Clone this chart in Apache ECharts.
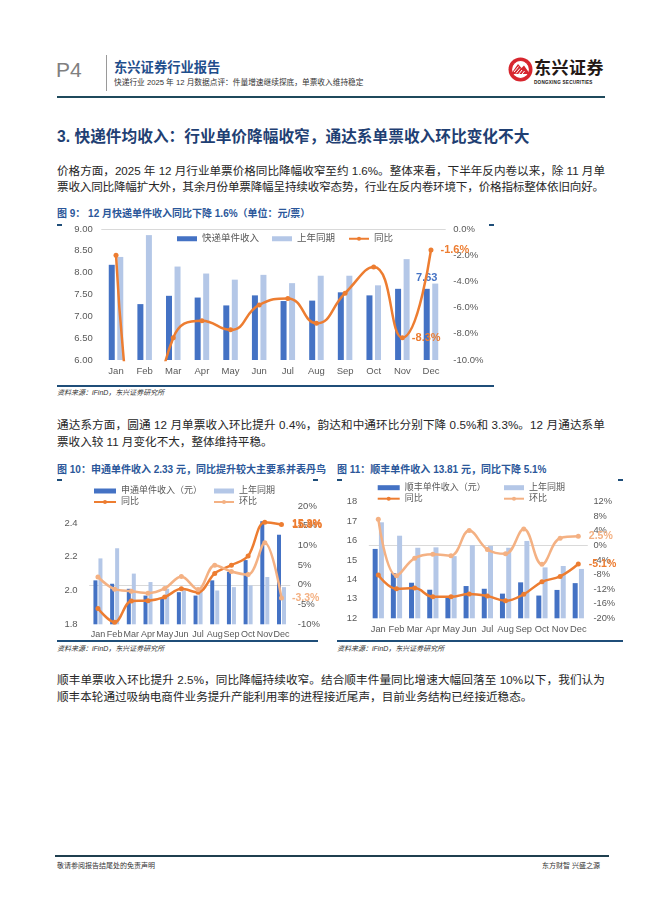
<!DOCTYPE html>
<html><head><meta charset="utf-8">
<script src="https://cdn.jsdelivr.net/npm/echarts@6/dist/echarts.min.js"></script>
<style>
html,body{margin:0;padding:0;background:#fff;}
body{width:662px;height:898px;position:relative;overflow:hidden;font-family:"Liberation Sans","Noto Sans CJK SC",sans-serif;color:#111;}
.a{position:absolute;white-space:nowrap;}
.para{font-size:11.6px;line-height:16px;color:#262626;}
.ftitle{font-size:10px;font-weight:bold;color:#2B579A;line-height:14px;}
.src{font-size:7px;font-style:italic;color:#333;line-height:10px;}
.rule{position:absolute;background:#1F4E79;}
.chart{position:absolute;}
</style></head><body>

<!-- header -->
<div class="a" style="left:56px;top:57px;font-size:21px;line-height:26px;color:#808080;font-family:'Liberation Sans Narrow','Liberation Sans',sans-serif;">P4</div>
<div class="rule" style="left:106px;top:55px;width:1px;height:36px;background:#9a9a9a;"></div>
<div class="a" style="left:114px;top:59px;font-size:13.3px;line-height:17px;font-weight:bold;color:#1F4E8C;">东兴证券行业报告</div>
<div class="a" style="left:114px;top:78px;font-size:7.7px;line-height:10px;color:#333;">快递行业 2025 年 12 月数据点评：件量增速继续探底，单票收入维持稳定</div>
<svg class="a" style="left:508px;top:57px" width="25" height="25" viewBox="0 0 25 25">
  <circle cx="12.5" cy="12.5" r="12" fill="#D7262E"/>
  <circle cx="12.5" cy="12.5" r="9" fill="#fff"/>
  <path d="M3 17 L10 7 L13.5 11 L16 8.5 L22 17 Z" fill="#D7262E"/>
  <path d="M6 15 L10.5 9.5 M8 16.5 L12 11.5 M10 18 L14 13 M13 18.5 L16.5 14" stroke="#fff" stroke-width="1"/>
  <circle cx="12.5" cy="12.5" r="9" fill="none" stroke="#D7262E" stroke-width="1.2"/>
</svg>
<div class="a" style="left:534px;top:59px;font-size:17px;line-height:20px;font-weight:bold;color:#231815;letter-spacing:0.5px;">东兴证券</div>
<div class="a" style="left:534px;top:80px;font-size:4.6px;line-height:6px;font-weight:bold;color:#231815;letter-spacing:0.25px;">DONGXING SECURITIES</div>
<div class="rule" style="left:57px;top:96px;width:548px;height:1.5px;background:#1F4A5C;"></div>

<!-- section heading -->
<div class="a" style="left:57px;top:127px;font-size:15.7px;line-height:20px;font-weight:bold;color:#1F3F73;">3. 快递件均收入：行业单价降幅收窄，通达系单票收入环比变化不大</div>

<div class="a para fit" data-w="548" style="left:57px;top:163px;">价格方面，2025 年 12 月行业单票价格同比降幅收窄至约 1.6%。整体来看，下半年反内卷以来，除 11 月单</div>
<div class="a para fit" data-w="547" style="left:57px;top:179px;">票收入同比降幅扩大外，其余月份单票降幅呈持续收窄态势，行业在反内卷环境下，价格指标整体依旧向好。</div>

<!-- fig 9 -->
<div class="a ftitle" style="left:57px;top:207px;">图 9：&nbsp;12 月快递单件收入同比下降 1.6%（单位：元/票）</div>
<div class="rule" style="left:57px;top:224px;width:5px;height:1.5px;"></div>
<div class="rule" style="left:489px;top:224px;width:5px;height:1.5px;"></div>
<div id="c1" class="chart" style="left:57px;top:222px;width:438px;height:163px;"></div>
<div class="rule" style="left:57px;top:385px;width:437px;height:1.5px;"></div>
<div class="a src" style="left:57px;top:388px;">资料来源：iFinD，东兴证券研究所</div>

<div class="a para fit" data-w="548" style="left:57px;top:417px;">通达系方面，圆通 12 月单票收入环比提升 0.4%，韵达和中通环比分别下降 0.5%和 3.3%。12 月通达系单</div>
<div class="a para" style="left:57px;top:434px;">票收入较 11 月变化不大，整体维持平稳。</div>

<!-- fig 10 -->
<div class="a ftitle" style="left:57px;top:463px;">图 10：申通单件收入 2.33 元，同比提升较大主要系并表丹鸟</div>
<div class="rule" style="left:57px;top:479px;width:5px;height:1.5px;"></div>
<div class="rule" style="left:313px;top:479px;width:5px;height:1.5px;"></div>
<div id="c2" class="chart" style="left:57px;top:480px;width:266px;height:160px;"></div>
<div class="rule" style="left:57px;top:640px;width:261px;height:1.5px;"></div>
<div class="a src" style="left:57px;top:644px;">资料来源：iFinD，东兴证券研究所</div>

<!-- fig 11 -->
<div class="a ftitle" style="left:337px;top:463px;">图 11：顺丰单件收入 13.81 元，同比下降 5.1%</div>
<div class="rule" style="left:337px;top:479px;width:5px;height:1.5px;"></div>
<div class="rule" style="left:618px;top:479px;width:5px;height:1.5px;"></div>
<div id="c3" class="chart" style="left:337px;top:478px;width:286px;height:162px;"></div>
<div class="rule" style="left:337px;top:640px;width:286px;height:1.5px;"></div>
<div class="a src" style="left:337px;top:644px;">资料来源：iFinD，东兴证券研究所</div>

<div class="a para fit" data-w="548" style="left:57px;top:672px;">顺丰单票收入环比提升 2.5%，同比降幅持续收窄。结合顺丰件量同比增速大幅回落至 10%以下，我们认为</div>
<div class="a para" style="left:57px;top:689px;">顺丰本轮通过吸纳电商件业务提升产能利用率的进程接近尾声，目前业务结构已经接近稳态。</div>

<!-- footer -->
<div class="rule" style="left:55px;top:855px;width:554px;height:1.5px;background:#1F3F4F;"></div>
<div class="a" style="left:57px;top:861px;font-size:7px;line-height:10px;color:#333;">敬请参阅报告结尾处的免责声明</div>
<div class="a" style="left:542px;top:861px;font-size:7px;line-height:10px;color:#333;">东方财智&nbsp;兴盛之源</div>

<script>
// ---------- data ----------
const months = ['Jan','Feb','Mar','Apr','May','Jun','Jul','Aug','Sep','Oct','Nov','Dec'];

// Fig 9
const expressIncome   = [8.18,7.28,7.47,7.43,7.25,7.48,7.35,7.36,7.55,7.48,7.63,7.63];
const expressLastYear = [8.36,8.86,8.14,7.98,7.84,7.95,7.76,7.93,7.93,7.71,8.31,7.75];
const expressYoy      = [-2.0,-17.8,-8.3,-7.0,-7.7,-5.8,-5.3,-7.2,-4.9,-2.9,-8.3,-1.6];
const fig9LeftTicks   = {min:6, max:9, interval:0.5};
const fig9RightTicks  = {min:-10, max:0, interval:2};

// Fig 10
const stoIncome   = [2.06,2.04,2.01,1.97,1.95,1.99,1.97,2.06,2.11,2.18,2.41,2.33];
const stoLastYear = [2.19,2.25,2.10,2.05,2.01,2.00,2.00,2.00,2.02,2.03,2.08,2.02];
const stoYoy      = [-6.0,-9.5,-4.1,-4.0,-3.1,-1.0,-1.9,2.9,5.0,7.3,15.9,15.3];
const stoMom      = [2.0,-1.1,-1.6,-2.1,-0.9,2.1,-1.2,5.0,3.4,2.6,10.7,-3.3];
const fig10LeftTicks  = {min:1.8, max:2.5, interval:0.2};
const fig10RightTicks = {min:-10, max:20, interval:5};

// Fig 11
const sfIncome   = [15.57,14.33,13.83,13.47,13.11,13.66,13.52,13.27,13.85,13.17,13.46,13.81];
const sfLastYear = [16.94,16.25,15.63,15.65,15.20,15.76,15.73,15.63,15.98,14.62,14.69,14.54];
const sfYoy      = [-8.1,-11.9,-11.7,-14.1,-14.1,-13.3,-13.9,-15.2,-13.4,-10.0,-8.5,-5.1];
const sfMom      = [7.2,-8.3,-3.5,-2.4,-2.8,4.1,-1.1,-2.3,4.5,-5.2,2.0,2.5];
const fig11LeftTicks  = {min:12, max:18, interval:1};
const fig11RightTicks = {min:-20, max:12, interval:4};

// ---------- styles ----------
const FF = '"Liberation Sans","Noto Sans CJK SC",sans-serif';
const DARK = '#4472C4', LIGHT = '#B4C7E7', ORANGE = '#ED7D31', PEACH = '#F4B183', AX = '#595959';

function fitLines(){
  document.querySelectorAll('.fit').forEach(el=>{
    el.style.letterSpacing='0px';
    const w = el.getBoundingClientRect().width;
    const n = el.textContent.length;
    el.style.letterSpacing = ((+el.dataset.w - w)/n)+'px';
  });
}
fitLines();

function labeled(arr, labels){
  return arr.map((v,i)=> labels[i] ? {value:v, label:Object.assign({show:true}, labels[i])} : v);
}
function pct1(p){ return p.value.toFixed(1)+'%'; }

function xAxisCfg(fs, margin){
  return {type:'category', data:months,
    axisLine:{lineStyle:{color:'#D9D9D9', width:1}}, axisTick:{show:false},
    axisLabel:{color:AX, fontSize:fs, fontFamily:FF, margin:margin, interval:0, hideOverlap:false}};
}
function yAxisCfg(t, fs, margin, fmt){
  return Object.assign({type:'value', splitLine:{show:false}, axisLine:{show:false}, axisTick:{show:false},
    axisLabel:{color:AX, fontSize:fs, fontFamily:FF, margin:margin, formatter:fmt, showMaxLabel:true}}, t);
}
function lineSeries(name, data, color, axis, smooth){
  return {name, type:'line', yAxisIndex:axis, data, smooth, clip:true,
    symbol:'circle', symbolSize:5, showAllSymbol:true,
    lineStyle:{color, width:2.5}, itemStyle:{color}, z:5};
}
function barSeries(name, data, color, w, gap){
  return {name, type:'bar', data, barWidth:w, barGap:gap, itemStyle:{color}};
}

// ---------- Fig 9 ----------
const c1 = echarts.init(document.getElementById('c1'));
const lab1Line = {position:'right', distance:7, formatter:pct1, color:ORANGE, fontSize:11, fontWeight:'bold', fontFamily:FF};
c1.setOption({
  animation:false, textStyle:{fontFamily:FF},
  legend:{left:120, top:12, padding:0, itemWidth:20, itemHeight:5, itemGap:13,
    textStyle:{color:AX, fontSize:9.5, fontFamily:FF},
    data:[{name:'快递单件收入',icon:'rect'},{name:'上年同期',icon:'rect'},'同比']},
  grid:{left:44.7, top:7, width:343.6, height:131},
  xAxis:xAxisCfg(9.5, 7),
  yAxis:[yAxisCfg(fig9LeftTicks, 9.5, 9, v=>v.toFixed(2)),
         yAxisCfg(fig9RightTicks, 9.5, 8, v=>v.toFixed(1)+'%')],
  series:[
    barSeries('快递单件收入', labeled(expressIncome, {11:{position:'top', distance:5, color:DARK, fontSize:11, fontWeight:'bold', formatter:p=>p.value.toFixed(2)}}), DARK, 6, '42%'),
    barSeries('上年同期', expressLastYear, LIGHT, 6, '42%'),
    lineSeries('同比', labeled(expressYoy, {10:lab1Line, 11:lab1Line}), ORANGE, 1, 0.5)
  ]
});

// ---------- Fig 10 ----------
const c2 = echarts.init(document.getElementById('c2'));
const lab2 = {position:'right', distance:8, formatter:pct1, color:ORANGE, fontSize:10.5, fontWeight:'bold', fontFamily:FF};
const lab2m = Object.assign({}, lab2, {color:PEACH});
c2.setOption({
  animation:false, textStyle:{fontFamily:FF},
  legend:[
    {left:36, top:5.5, orient:'vertical', padding:0, itemWidth:22, itemHeight:5, itemGap:0,
     textStyle:{color:AX, fontSize:9, lineHeight:11, fontFamily:FF},
     data:[{name:'申通单件收入（元）',icon:'rect'},'同比']},
    {left:156, top:5.5, orient:'vertical', padding:0, itemWidth:20, itemHeight:5, itemGap:0,
     textStyle:{color:AX, fontSize:9, lineHeight:11, fontFamily:FF},
     data:[{name:'上年同期',icon:'rect'},'环比']}
  ],
  grid:{left:32.6, top:26, width:201.8, height:118.3},
  xAxis:xAxisCfg(9, 6),
  yAxis:[yAxisCfg(fig10LeftTicks, 9.5, 12, v=>v.toFixed(1)),
         yAxisCfg(fig10RightTicks, 9.5, 8, v=>v+'%')],
  series:[
    barSeries('申通单件收入（元）', stoIncome, DARK, 4, '25%'),
    barSeries('上年同期', stoLastYear, LIGHT, 4, '25%'),
    lineSeries('同比', labeled(stoYoy, {10:Object.assign({}, lab2, {offset:[17,2.5]}), 11:lab2}), ORANGE, 1, 0.35),
    lineSeries('环比', labeled(stoMom, {11:lab2m}), PEACH, 1, 0.35)
  ]
});
c2.setOption({yAxis:[{axisLabel:{showMaxLabel:false}},{}]});

// ---------- Fig 11 ----------
const c3 = echarts.init(document.getElementById('c3'));
const lab3 = {position:'right', distance:8, formatter:pct1, color:ORANGE, fontSize:10.5, fontWeight:'bold', fontFamily:FF};
const lab3m = Object.assign({}, lab3, {color:PEACH});
c3.setOption({
  animation:false, textStyle:{fontFamily:FF},
  legend:[
    {left:39.7, top:4.2, orient:'vertical', padding:0, itemWidth:22, itemHeight:5, itemGap:0,
     textStyle:{color:AX, fontSize:9, lineHeight:11, fontFamily:FF},
     data:[{name:'顺丰单件收入（元）',icon:'rect'},'同比']},
    {left:166, top:4.2, orient:'vertical', padding:0, itemWidth:20, itemHeight:5, itemGap:0,
     textStyle:{color:AX, fontSize:9, lineHeight:11, fontFamily:FF},
     data:[{name:'上年同期',icon:'rect'},'环比']}
  ],
  grid:{left:32.2, top:23.7, width:218.2, height:116.6},
  xAxis:xAxisCfg(9.3, 6),
  yAxis:[yAxisCfg(fig11LeftTicks, 9.3, 12, v=>String(v)),
         yAxisCfg(fig11RightTicks, 9.3, 6, v=>v+'%')],
  series:[
    barSeries('顺丰单件收入（元）', sfIncome, DARK, 5, '25%'),
    barSeries('上年同期', sfLastYear, LIGHT, 5, '25%'),
    lineSeries('同比', labeled(sfYoy, {11:lab3}), ORANGE, 1, 0.4),
    lineSeries('环比', labeled(sfMom, {11:lab3m}), PEACH, 1, 0.4)
  ]
});
if (document.fonts && document.fonts.ready) document.fonts.ready.then(fitLines);
</script>
</body></html>
